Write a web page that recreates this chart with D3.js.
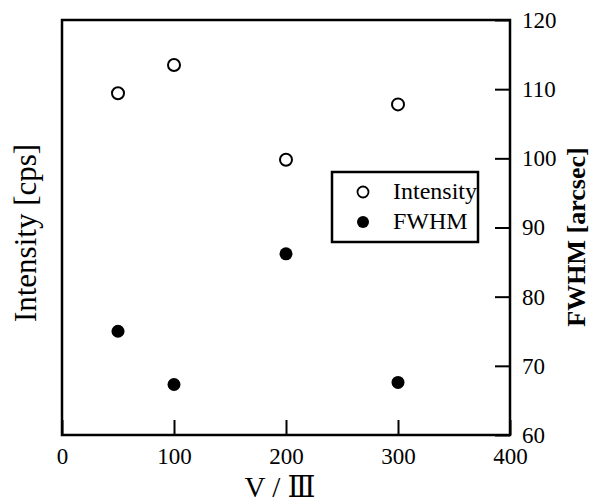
<!DOCTYPE html>
<html>
<head>
<meta charset="utf-8">
<script src="https://cdn.jsdelivr.net/npm/d3@7"></script>
<style>
  body { margin: 0; background: #fff; }
  svg { font-family: "Liberation Serif", "Times New Roman", "DejaVu Serif", serif; }
  .axis path { display: none; }
  .axis line { stroke: #000; stroke-width: 2; }
  .axis text { font-family: "Liberation Serif", "Times New Roman", serif; font-size: 23px; fill: #000; }
</style>
</head>
<body>
<svg id="chart" width="591" height="503"></svg>
<script>
// V/III ratio of each sample
const ratio = [50, 100, 200, 300]
// intensity, left axis (no tick labels in the original, read in right-axis units)
const intensity = [109.4, 113.5, 99.8, 107.8]
// FWHM [arcsec], right axis
const fwhm = [75.0, 67.3, 86.2, 67.6]
const xTicks = [0, 100, 200, 300, 400]
const yTicks = [60, 70, 80, 90, 100, 110, 120]
const legendNames = ["Intensity", "FWHM"]

const plotLeft = 62, plotRight = 510, plotTop = 20, plotBottom = 435

let svg = d3.select("#chart")
let xScale = d3.scaleLinear().domain([0, 400]).range([plotLeft, plotRight])
let yRight = d3.scaleLinear().domain([60, 120]).range([plotBottom, plotTop])
let yLeft = d3.scaleLinear().domain([60, 120]).range([plotBottom, plotTop])

// x axis, ticks pointing into the plot
svg.append("g").attr("class", "axis")
    .attr("transform", `translate(0,${plotBottom})`)
    .call(d3.axisBottom(xScale).tickValues(xTicks).tickSize(-15).tickPadding(13))

// right axis
svg.append("g").attr("class", "axis")
    .attr("transform", `translate(${plotRight},0)`)
    .call(d3.axisRight(yRight).tickValues(yTicks).tickSize(-15).tickPadding(12))

// frame
svg.append("rect")
    .attr("x", plotLeft).attr("y", plotTop)
    .attr("width", plotRight - plotLeft).attr("height", plotBottom - plotTop)
    .attr("fill", "none").attr("stroke", "#000").attr("stroke-width", 2.5)

// intensity: open circles
svg.selectAll(".intensity")
    .data(ratio)
    .enter()
    .append("circle")
    .attr("class", "intensity")
    .attr("cx", d => xScale(d))
    .attr("cy", (d, i) => yLeft(intensity[i]))
    .attr("r", 6)
    .attr("fill", "#fff").attr("stroke", "#000").attr("stroke-width", 2)

// FWHM: filled circles
svg.selectAll(".fwhm")
    .data(ratio)
    .enter()
    .append("circle")
    .attr("class", "fwhm")
    .attr("cx", d => xScale(d))
    .attr("cy", (d, i) => yRight(fwhm[i]))
    .attr("r", 6.5)
    .attr("fill", "#000")

// axis titles
svg.append("text")
    .attr("transform", `translate(${(plotLeft + plotRight) / 2 - 6},${497})`)
    .attr("text-anchor", "middle")
    .style("font-size", "29px")
    .text("V / Ⅲ")

svg.append("text")
    .attr("transform", `translate(${36},${233}) rotate(-90)`)
    .attr("text-anchor", "middle")
    .style("font-size", "31px")
    .text("Intensity [cps]")

svg.append("text")
    .attr("transform", `translate(${585},${237}) rotate(-90)`)
    .attr("text-anchor", "middle")
    .style("font-size", "26px")
    .style("font-weight", "bold")
    .text("FWHM [arcsec]")

// legend
let legend = svg.append("g").attr("transform", "translate(332,172)")
legend.append("rect")
    .attr("width", 146).attr("height", 70)
    .attr("fill", "#fff").attr("stroke", "#000").attr("stroke-width", 2.5)
legend.append("circle").attr("cx", 31).attr("cy", 20).attr("r", 5.5)
    .attr("fill", "#fff").attr("stroke", "#000").attr("stroke-width", 1.8)
legend.append("circle").attr("cx", 31).attr("cy", 50).attr("r", 6).attr("fill", "#000")
legend.selectAll(".ltext")
    .data(legendNames)
    .enter()
    .append("text")
    .attr("x", 61)
    .attr("y", (d, i) => 27 + i * 30)
    .style("font-size", "24px")
    .text(d => d)
</script>
</body>
</html>
